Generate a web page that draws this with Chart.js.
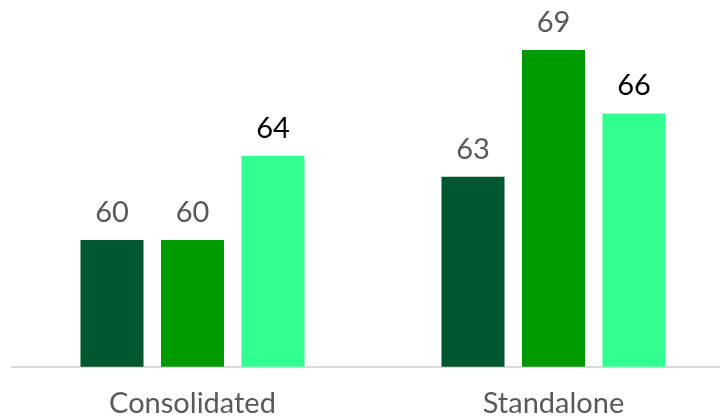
<!DOCTYPE html>
<html>
<head>
<meta charset="utf-8">
<script src="https://cdn.jsdelivr.net/npm/chart.js@4"></script>
<style>
  html, body { margin: 0; padding: 0; background: #fff; overflow: hidden; }
</style>
</head>
<body>
<canvas id="ratioChart" width="740" height="419"></canvas>
<script>
const categories = ["Consolidated", "Standalone"];
const seriesA = [60, 63];
const seriesB = [60, 69];
const seriesC = [64, 66];
const seriesNames = ["FY1", "FY2", "FY3"];

const barColors = ["#00592e", "#009a00", "#31ff8f"];
const labelColors = ["#595959", "#595959", "#000000"];
const fontFamily = "Lato, 'Open Sans', sans-serif";

// writes each bar's value just above it
const valueLabels = {
  id: "valueLabels",
  afterDatasetsDraw(chart) {
    const ctx = chart.ctx;
    ctx.save();
    ctx.font = `29px ${fontFamily}`;
    ctx.textAlign = "center";
    ctx.textBaseline = "alphabetic";
    chart.data.datasets.forEach((ds, i) => {
      const meta = chart.getDatasetMeta(i);
      ctx.fillStyle = labelColors[i];
      meta.data.forEach((bar, j) => {
        ctx.fillText(String(ds.data[j]), bar.x, bar.y - 18);
      });
    });
    ctx.restore();
  }
};

const ctx = document.getElementById("ratioChart").getContext("2d");
new Chart(ctx, {
  type: "bar",
  data: {
    labels: categories,
    datasets: [seriesA, seriesB, seriesC].map((d, i) => ({
      label: seriesNames[i],
      data: d,
      backgroundColor: barColors[i],
      categoryPercentage: 0.669,
      barPercentage: 0.783
    }))
  },
  options: {
    responsive: false,
    animation: false,
    devicePixelRatio: 1,
    layout: { padding: { left: 12, right: 6, top: 29, bottom: 0 } },
    plugins: {
      legend: { display: false },
      tooltip: { enabled: false }
    },
    scales: {
      x: {
        grid: { display: false, drawTicks: false },
        border: { display: true, color: "#d9d9d9", width: 2 },
        ticks: {
          color: "#595959",
          padding: 20,
          font: { family: fontFamily, size: 29 }
        },
        afterFit(scale) { scale.height = 52.3; }
      },
      y: {
        display: false,
        min: 54,
        max: 70
      }
    }
  },
  plugins: [valueLabels]
});
</script>
</body>
</html>
